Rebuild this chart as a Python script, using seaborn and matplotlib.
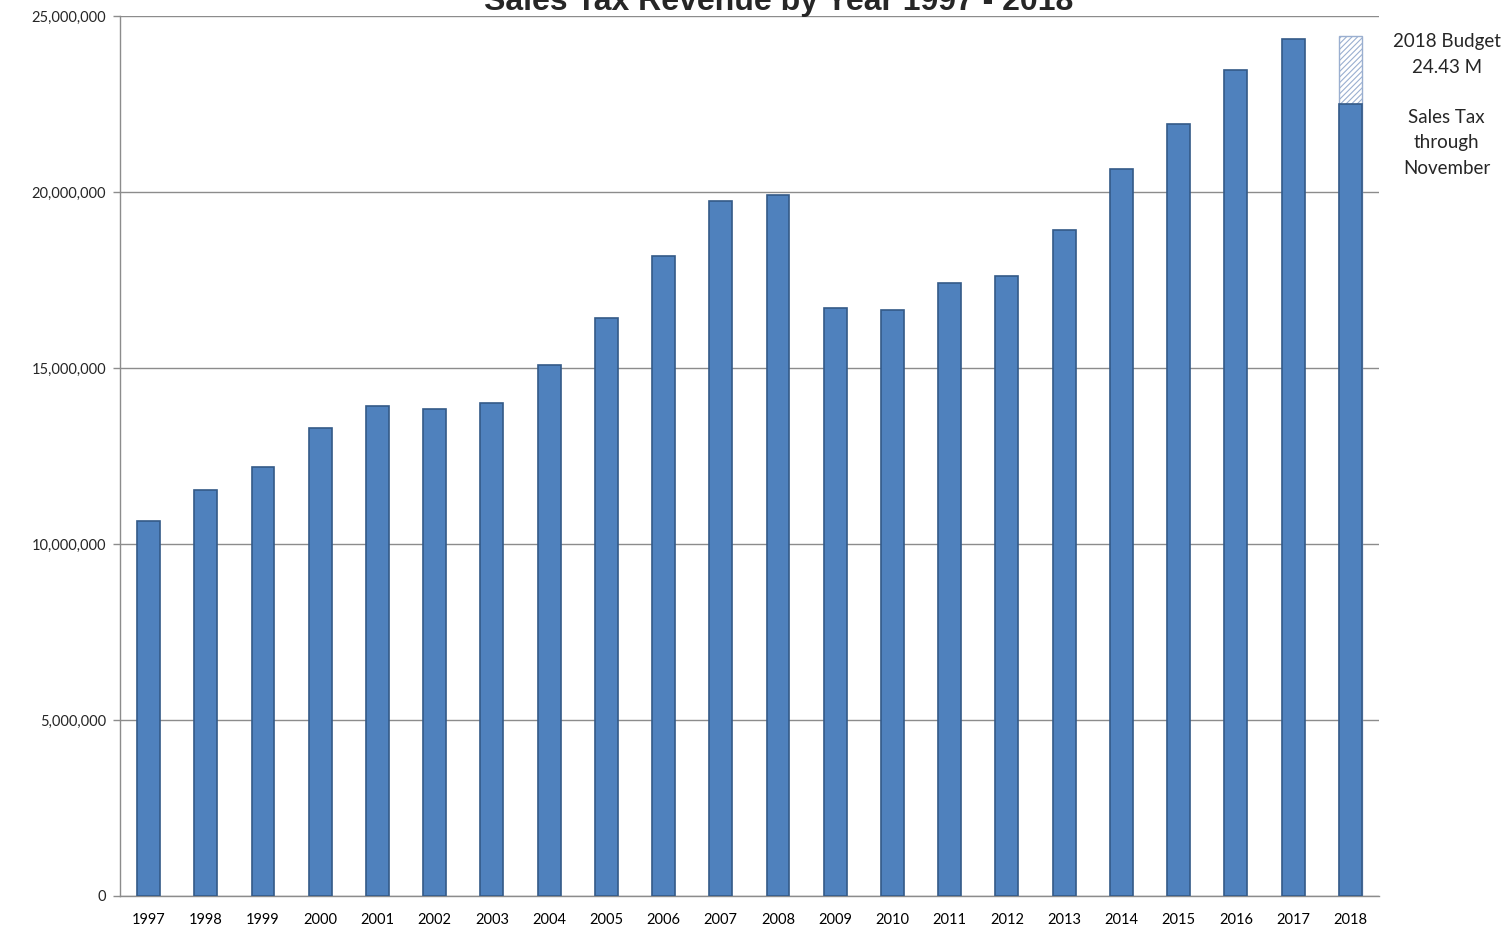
import numpy as np
import pandas as pd
import matplotlib
matplotlib.use("Agg")
import matplotlib.pyplot as plt
import matplotlib.ticker as mticker
import seaborn as sns

# ---------------- data ----------------
years = [str(y) for y in range(1997, 2019)]
revenue = [10.65, 11.54, 12.20, 13.30, 13.91, 13.84, 14.00, 15.07, 16.41, 18.19, 19.74,
           19.91, 16.71, 16.66, 17.40, 17.62, 18.92, 20.64, 21.93, 23.47, 24.35, 22.49]
revenue = [v * 1e6 for v in revenue]
budget_year = ["2018"]
budget_value = [24.43e6]

title = "Sales Tax Revenue by Year 1997 - 2018"
note_lines = ["2018 Budget", "24.43 M", "", "Sales Tax", "through", "November"]

df = pd.DataFrame({"year": years, "revenue": revenue})
bud = pd.DataFrame({"year": budget_year, "revenue": budget_value})

# ---------------- plot ----------------
sns.set_theme(style="white")
plt.rcParams["font.family"] = ["Lato", "DejaVu Sans"]
plt.rcParams["hatch.linewidth"] = 0.8

fig = plt.figure(figsize=(15.07, 9.33), dpi=100)
ax = fig.add_axes([0.0796, 0.0397, 0.8354, 0.9432])

# budget bar (hatched) behind the actual bars
sns.barplot(data=bud, x="year", y="revenue", order=years, width=0.4,
            color="white", edgecolor="#9AAFD0", linewidth=1.0, ax=ax, zorder=2)
for p in ax.patches:
    p.set_hatch("//////")
    p.set_facecolor("white")

sns.barplot(data=df, x="year", y="revenue", order=years, width=0.4,
            color="#4F81BD", saturation=1, edgecolor="#345A88", linewidth=1.2,
            ax=ax, zorder=3)

ax.set_ylim(0, 25e6)
ax.set_xlim(-0.5, len(years) - 0.5)
ax.yaxis.set_major_locator(mticker.MultipleLocator(5e6))
ax.yaxis.set_major_formatter(mticker.FuncFormatter(lambda v, _: f"{v:,.0f}"))
ax.grid(axis="y", color="#8C8C8C", linewidth=1.0, zorder=0)
ax.set_axisbelow(True)

for s in ["top", "right"]:
    ax.spines[s].set_visible(False)
for s in ["left", "bottom"]:
    ax.spines[s].set_color("#8C8C8C")
    ax.spines[s].set_linewidth(1.0)

ax.set_xlabel("")
ax.set_ylabel("")
ax.set_xticks(np.arange(len(years) + 1) - 0.5, minor=True)
ax.tick_params(axis="x", which="major", length=0, pad=12, labelsize=10.5, colors="black")
ax.tick_params(axis="x", which="minor", length=6, width=1, color="#8C8C8C", direction="out")
ax.tick_params(axis="y", length=5, width=1, color="#8C8C8C", direction="out",
               labelsize=10.5, pad=5, left=True)

# title, clipped by the top edge like the reference
fig.text(0.517, 1 - 10 / 933, title, ha="center", va="baseline",
         fontsize=23, fontweight="bold", family=["Liberation Sans", "DejaVu Sans"])

# side note
y0 = 1 - 42 / 933
for i, line in enumerate(note_lines):
    fig.text(0.960, y0 - i * 25.2 / 933, line, ha="center", va="center", fontsize=13.5)

fig.savefig("out.png", dpi=100)
